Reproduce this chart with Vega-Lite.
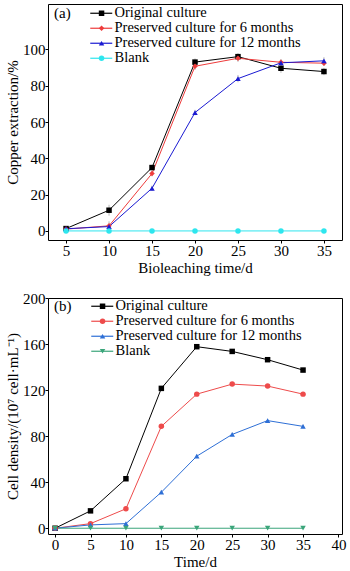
{
  "$schema": "https://vega.github.io/schema/vega-lite/v6.json",
  "padding": {"left": 5, "top": 3, "right": 3, "bottom": 0},
  "background": "white",
  "bounds": "flush",
  "spacing": 58,
  "datasets": {
    "a": [
      {"t": 5, "v": 1.3, "e": 1, "s": "Original culture"},
      {"t": 10, "v": 11.4, "e": 3, "s": "Original culture"},
      {"t": 15, "v": 34.9, "e": 1.5, "s": "Original culture"},
      {"t": 20, "v": 93.0, "e": 2, "s": "Original culture"},
      {"t": 25, "v": 96.0, "e": 2, "s": "Original culture"},
      {"t": 30, "v": 89.6, "e": 2.5, "s": "Original culture"},
      {"t": 35, "v": 87.8, "e": 2, "s": "Original culture"},
      {"t": 5, "v": 1.0, "e": 0.5, "s": "Preserved culture for 6 months"},
      {"t": 10, "v": 2.8, "e": 2.5, "s": "Preserved culture for 6 months"},
      {"t": 15, "v": 31.6, "e": 1.5, "s": "Preserved culture for 6 months"},
      {"t": 20, "v": 90.7, "e": 2, "s": "Preserved culture for 6 months"},
      {"t": 25, "v": 95.1, "e": 2, "s": "Preserved culture for 6 months"},
      {"t": 30, "v": 92.9, "e": 1.5, "s": "Preserved culture for 6 months"},
      {"t": 35, "v": 92.4, "e": 1.5, "s": "Preserved culture for 6 months"},
      {"t": 5, "v": 1.2, "e": 0.5, "s": "Preserved culture for 12 months"},
      {"t": 10, "v": 2.4, "e": 1, "s": "Preserved culture for 12 months"},
      {"t": 15, "v": 23.5, "e": 1.5, "s": "Preserved culture for 12 months"},
      {"t": 20, "v": 65.2, "e": 1.5, "s": "Preserved culture for 12 months"},
      {"t": 25, "v": 83.9, "e": 2, "s": "Preserved culture for 12 months"},
      {"t": 30, "v": 92.6, "e": 2, "s": "Preserved culture for 12 months"},
      {"t": 35, "v": 93.7, "e": 2, "s": "Preserved culture for 12 months"},
      {"t": 5, "v": 0, "e": 0, "s": "Blank"},
      {"t": 10, "v": 0, "e": 0, "s": "Blank"},
      {"t": 15, "v": 0, "e": 0, "s": "Blank"},
      {"t": 20, "v": 0, "e": 0, "s": "Blank"},
      {"t": 25, "v": 0, "e": 0, "s": "Blank"},
      {"t": 30, "v": 0, "e": 0, "s": "Blank"},
      {"t": 35, "v": 0, "e": 0, "s": "Blank"}
    ],
    "b": [
      {"t": 0, "v": 0, "e": 0, "s": "Original culture"},
      {"t": 5, "v": 15.1, "e": 1, "s": "Original culture"},
      {"t": 10, "v": 43.0, "e": 1.5, "s": "Original culture"},
      {"t": 15, "v": 121.5, "e": 1.5, "s": "Original culture"},
      {"t": 20, "v": 157.7, "e": 1.5, "s": "Original culture"},
      {"t": 25, "v": 153.6, "e": 1.5, "s": "Original culture"},
      {"t": 30, "v": 146.4, "e": 2, "s": "Original culture"},
      {"t": 35, "v": 137.4, "e": 2, "s": "Original culture"},
      {"t": 0, "v": 0, "e": 0, "s": "Preserved culture for 6 months"},
      {"t": 5, "v": 4.0, "e": 1, "s": "Preserved culture for 6 months"},
      {"t": 10, "v": 16.9, "e": 1, "s": "Preserved culture for 6 months"},
      {"t": 15, "v": 88.5, "e": 1.5, "s": "Preserved culture for 6 months"},
      {"t": 20, "v": 116.5, "e": 1.5, "s": "Preserved culture for 6 months"},
      {"t": 25, "v": 125.2, "e": 1.5, "s": "Preserved culture for 6 months"},
      {"t": 30, "v": 123.5, "e": 1.5, "s": "Preserved culture for 6 months"},
      {"t": 35, "v": 116.5, "e": 1.5, "s": "Preserved culture for 6 months"},
      {"t": 0, "v": 0, "e": 0, "s": "Preserved culture for 12 months"},
      {"t": 5, "v": 2.9, "e": 1, "s": "Preserved culture for 12 months"},
      {"t": 10, "v": 4.0, "e": 1, "s": "Preserved culture for 12 months"},
      {"t": 15, "v": 31.3, "e": 1.5, "s": "Preserved culture for 12 months"},
      {"t": 20, "v": 62.6, "e": 1.5, "s": "Preserved culture for 12 months"},
      {"t": 25, "v": 81.5, "e": 1.5, "s": "Preserved culture for 12 months"},
      {"t": 30, "v": 93.5, "e": 1.5, "s": "Preserved culture for 12 months"},
      {"t": 35, "v": 88.5, "e": 1.5, "s": "Preserved culture for 12 months"},
      {"t": 0, "v": 0, "e": 0, "s": "Blank"},
      {"t": 5, "v": 0, "e": 0, "s": "Blank"},
      {"t": 10, "v": 0, "e": 0, "s": "Blank"},
      {"t": 15, "v": 0, "e": 0, "s": "Blank"},
      {"t": 20, "v": 0, "e": 0, "s": "Blank"},
      {"t": 25, "v": 0, "e": 0, "s": "Blank"},
      {"t": 30, "v": 0, "e": 0, "s": "Blank"},
      {"t": 35, "v": 0, "e": 0, "s": "Blank"}
    ]
  },
  "vconcat": [
    {
      "width": 294,
      "height": 236,
      "data": {"name": "a"},
      "encoding": {
        "x": {"field": "t", "type": "quantitative", "scale": {"domain": [2.9, 37.1], "nice": false, "zero": false}, "axis": {"values": [5, 10, 15, 20, 25, 30, 35], "title": "Bioleaching time/d"}}
      },
      "layer": [
        {
          "mark": {"type": "errorbar", "color": "#b8b8b8", "thickness": 1},
          "encoding": {
            "y": {"field": "v", "type": "quantitative", "scale": {"domain": [-5, 125], "nice": false, "zero": false}, "axis": {"values": [0, 20, 40, 60, 80, 100], "title": "Copper extraction/%"}},
            "yError": {"field": "e"}
          }
        },
        {
          "mark": {"type": "line", "strokeWidth": 1},
          "encoding": {
            "y": {"field": "v", "type": "quantitative", "title": "Copper extraction/%"},
            "stroke": {"field": "s", "type": "nominal",
              "scale": {"domain": ["Original culture", "Preserved culture for 6 months", "Preserved culture for 12 months", "Blank"], "range": ["#000000", "#ee3b3b", "#1a1ad2", "#2ee6ee"]},
              "legend": {"orient": "none", "legendX": 6, "legendY": 2, "title": "(a)", "titleOrient": "left", "titleAnchor": "start", "titlePadding": 17, "symbolType": "M-3.667,0L3.667,0", "symbolSize": 36, "symbolOffset": 6, "symbolStrokeWidth": 1.2, "labelOffset": 6, "rowPadding": 0, "padding": 0, "labelLimit": 400}},
            "order": {"field": "t"}
          }
        },
        {
          "mark": {"type": "point", "filled": true, "size": 30, "opacity": 1},
          "encoding": {
            "y": {"field": "v", "type": "quantitative", "title": "Copper extraction/%"},
            "fill": {"field": "s", "type": "nominal",
              "scale": {"domain": ["Original culture", "Preserved culture for 6 months", "Preserved culture for 12 months", "Blank"], "range": ["#000000", "#ee3b3b", "#1a1ad2", "#2ee6ee"]},
              "legend": {"orient": "none", "legendX": 6, "legendY": 2, "title": "(a)", "titleOpacity": 0, "titleOrient": "left", "titleAnchor": "start", "titlePadding": 17, "labelOpacity": 0, "symbolSize": 30, "symbolOffset": 6.3, "symbolStrokeWidth": 0, "rowPadding": 0, "padding": 0, "labelOffset": 6, "labelLimit": 400}},
            "shape": {"field": "s", "type": "nominal",
              "scale": {"domain": ["Original culture", "Preserved culture for 6 months", "Preserved culture for 12 months", "Blank"], "range": ["square", "diamond", "triangle-up", "circle"]},
              "legend": {"orient": "none", "legendX": 6, "legendY": 2, "title": "(a)", "titleOpacity": 0, "titleOrient": "left", "titleAnchor": "start", "titlePadding": 17, "labelOpacity": 0, "symbolSize": 30, "symbolOffset": 6.3, "symbolStrokeWidth": 0, "rowPadding": 0, "padding": 0, "labelOffset": 6, "labelLimit": 400}}
          }
        }
      ],
      "resolve": {"legend": {"stroke": "independent", "fill": "independent", "shape": "independent"}}
    },
    {
      "width": 294,
      "height": 236,
      "data": {"name": "b"},
      "encoding": {
        "x": {"field": "t", "type": "quantitative", "scale": {"domain": [-1, 40.5], "nice": false, "zero": false}, "axis": {"values": [0, 5, 10, 15, 20, 25, 30, 35, 40], "title": "Time/d"}}
      },
      "layer": [
        {
          "mark": {"type": "errorbar", "color": "#b8b8b8", "thickness": 1},
          "encoding": {
            "y": {"field": "v", "type": "quantitative", "scale": {"domain": [-5, 200], "nice": false, "zero": false}, "axis": {"values": [0, 40, 80, 120, 160, 200], "title": "Cell density/(10⁷ cell·mL⁻¹)"}},
            "yError": {"field": "e"}
          }
        },
        {
          "mark": {"type": "line", "strokeWidth": 1},
          "encoding": {
            "y": {"field": "v", "type": "quantitative", "title": "Cell density/(10⁷ cell·mL⁻¹)"},
            "stroke": {"field": "s", "type": "nominal",
              "scale": {"domain": ["Original culture", "Preserved culture for 6 months", "Preserved culture for 12 months", "Blank"], "range": ["#000000", "#ee4b4b", "#2e6fd6", "#3aa57a"]},
              "legend": {"orient": "none", "legendX": 6, "legendY": 1, "title": "(b)", "titleOrient": "left", "titleAnchor": "start", "titlePadding": 17, "symbolType": "M-3.667,0L3.667,0", "symbolSize": 36, "symbolOffset": 6, "symbolStrokeWidth": 1.2, "labelOffset": 6, "rowPadding": 0, "padding": 0, "labelLimit": 400}},
            "order": {"field": "t"}
          }
        },
        {
          "mark": {"type": "point", "filled": true, "size": 30, "opacity": 1},
          "encoding": {
            "y": {"field": "v", "type": "quantitative", "title": "Cell density/(10⁷ cell·mL⁻¹)"},
            "fill": {"field": "s", "type": "nominal",
              "scale": {"domain": ["Original culture", "Preserved culture for 6 months", "Preserved culture for 12 months", "Blank"], "range": ["#000000", "#ee4b4b", "#2e6fd6", "#3aa57a"]},
              "legend": {"orient": "none", "legendX": 6, "legendY": 1, "title": "(b)", "titleOpacity": 0, "titleOrient": "left", "titleAnchor": "start", "titlePadding": 17, "labelOpacity": 0, "symbolSize": 30, "symbolOffset": 6.3, "symbolStrokeWidth": 0, "rowPadding": 0, "padding": 0, "labelOffset": 6, "labelLimit": 400}},
            "shape": {"field": "s", "type": "nominal",
              "scale": {"domain": ["Original culture", "Preserved culture for 6 months", "Preserved culture for 12 months", "Blank"], "range": ["square", "circle", "triangle-up", "triangle-down"]},
              "legend": {"orient": "none", "legendX": 6, "legendY": 1, "title": "(b)", "titleOpacity": 0, "titleOrient": "left", "titleAnchor": "start", "titlePadding": 17, "labelOpacity": 0, "symbolSize": 30, "symbolOffset": 6.3, "symbolStrokeWidth": 0, "rowPadding": 0, "padding": 0, "labelOffset": 6, "labelLimit": 400}}
          }
        }
      ],
      "resolve": {"legend": {"stroke": "independent", "fill": "independent", "shape": "independent"}}
    }
  ],
  "resolve": {
    "scale": {"stroke": "independent", "fill": "independent", "shape": "independent"},
    "legend": {"stroke": "independent", "fill": "independent", "shape": "independent"}
  },
  "config": {
    "font": "Liberation Serif",
    "view": {"stroke": "#000000", "strokeWidth": 1},
    "axis": {
      "grid": false,
      "domain": false,
      "labelFont": "Liberation Serif",
      "labelFontSize": 15,
      "labelColor": "#000000",
      "titleFont": "Liberation Serif",
      "titleFontSize": 15,
      "titleFontWeight": "normal",
      "titleColor": "#000000",
      "tickColor": "#000000",
      "tickSize": 3,
      "labelPadding": 0,
      "titlePadding": 2
    },
    "legend": {
      "labelFont": "Liberation Serif",
      "labelFontSize": 14.5,
      "labelColor": "#000000",
      "titleFont": "Liberation Serif",
      "titleFontSize": 15,
      "titleFontWeight": "normal",
      "titleColor": "#000000"
    }
  }
}
